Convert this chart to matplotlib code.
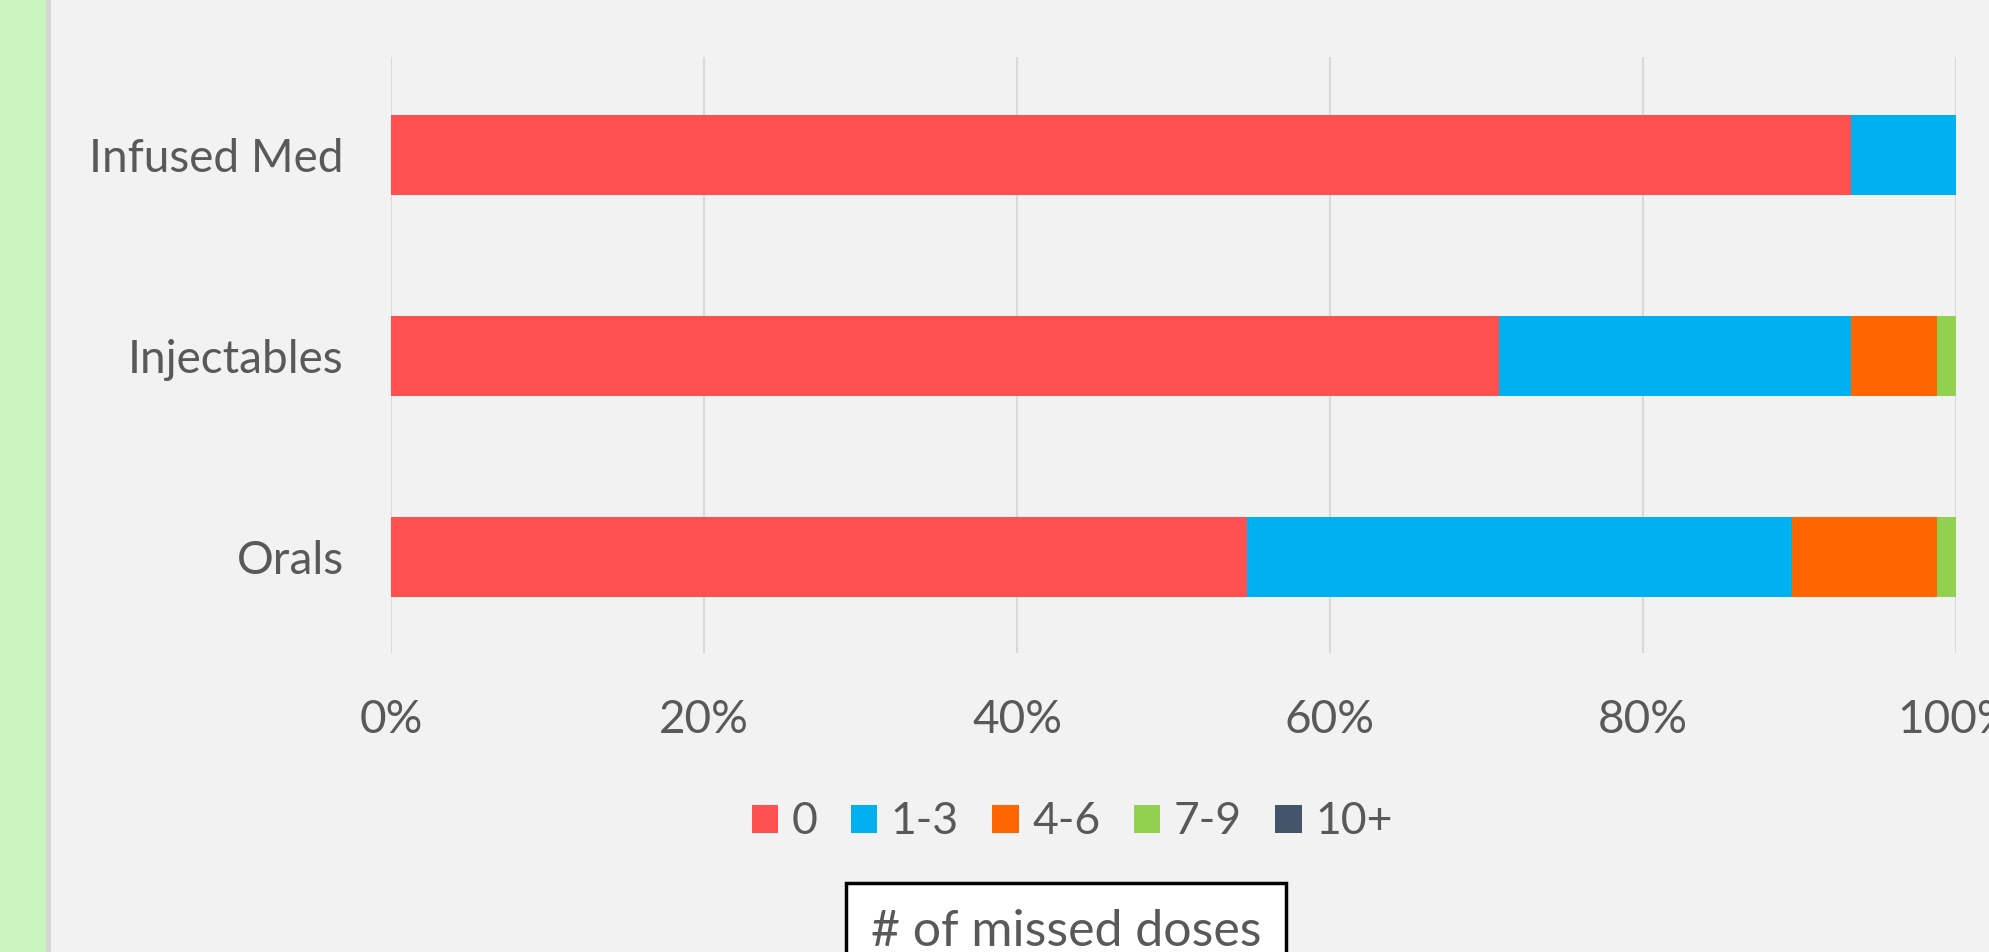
import matplotlib.pyplot as plt
from matplotlib.patches import Rectangle

# share of patients (%) by number of missed doses
categories = ["Orals", "Injectables", "Infused Med"]
dose_groups = ["0", "1-3", "4-6", "7-9", "10+"]
zero = [54.7, 70.8, 93.3]
one_three = [34.8, 22.5, 6.7]
four_six = [9.3, 5.5, 0.0]
seven_nine = [1.2, 1.2, 0.0]
ten_plus = [0.0, 0.0, 0.0]
xticks = [0, 20, 40, 60, 80, 100]
xtick_labels = ["0%", "20%", "40%", "60%", "80%", "100%"]

series = [zero, one_three, four_six, seven_nine, ten_plus]
colors = ["#ff5050", "#00b0f0", "#ff6600", "#92d050", "#44546a"]

plt.rcParams["font.family"] = ["Lato", "DejaVu Sans"]
txt_col = "#595959"

W, H = 1990, 952
fig = plt.figure(figsize=(W / 100, H / 100), dpi=100, facecolor="#f2f2f2")

# green strip on the left with a grey edge
fig.patches.append(Rectangle((0, 0), 46 / W, 1, transform=fig.transFigure,
                             facecolor="#c9f4bd", edgecolor="none", zorder=0))
fig.patches.append(Rectangle((46 / W, 0), 5 / W, 1, transform=fig.transFigure,
                             facecolor="#d6d6d6", edgecolor="none", zorder=0))

ax = fig.add_axes([391 / W, 1 - 653 / H, (1956 - 391) / W, (653 - 57) / H])
ax.set_facecolor("none")

left = [0.0] * len(categories)
for vals, lab, col in zip(series, dose_groups, colors):
    ax.barh(range(len(categories)), vals, left=left, height=0.4, color=col,
            label=lab, zorder=3)
    left = [a + b for a, b in zip(left, vals)]

ax.set_xlim(0, 100)
ax.set_ylim(-0.48, 2.49)
ax.set_xticks(xticks)
ax.set_xticklabels(xtick_labels)
ax.set_yticks(range(len(categories)))
ax.set_yticklabels(categories)
ax.grid(axis="x", color="#d9d9d9", linewidth=1.5, zorder=0)
for s in ax.spines.values():
    s.set_visible(False)
ax.tick_params(axis="both", length=0, labelsize=33, labelcolor=txt_col)
ax.tick_params(axis="x", pad=33)
ax.tick_params(axis="y", pad=34)
for lbl in ax.get_xticklabels():
    lbl.set_clip_on(False)

leg = fig.legend(loc="center", bbox_to_anchor=(1072 / W, 1 - 822 / H), ncol=5,
                 frameon=False, fontsize=32, handlelength=0.6, handleheight=0.6,
                 handletextpad=0.3, columnspacing=0.75, labelcolor=txt_col)

# boxed caption at the bottom, cut off by the figure edge
fig.patches.append(Rectangle((846 / W, -0.05), (1286 - 846) / W, 0.05 + 1 - 883 / H,
                             transform=fig.transFigure, facecolor="white",
                             edgecolor="black", linewidth=2.5, zorder=2))
fig.text(1066 / W, 1 - 932 / H, "# of missed doses", ha="center", va="center",
         fontsize=36, color=txt_col, zorder=3)

fig.savefig("out.png", dpi=100, facecolor=fig.get_facecolor())
